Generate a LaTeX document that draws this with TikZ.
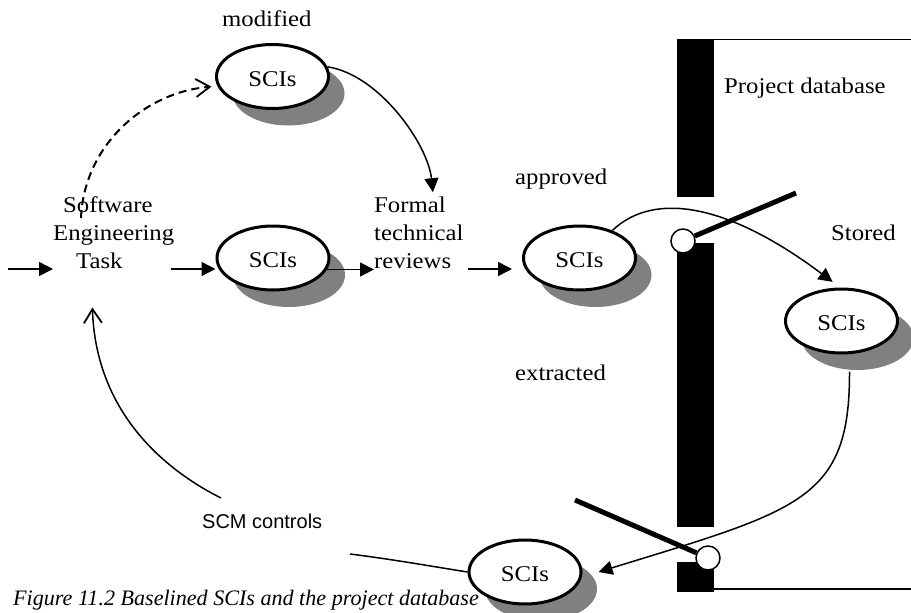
\documentclass[tikz,border=0pt]{standalone}
\usepackage{fontspec}
\setmainfont[FakeStretch=1.1]{Liberation Serif}
\newfontfamily\labelsans{Liberation Sans}
\newfontfamily\capfont{Liberation Serif}
\usetikzlibrary{arrows.meta,shapes.geometric,shadows}
\definecolor{shadowgray}{HTML}{808080}

\begin{document}
\begin{tikzpicture}[x=1pt,y=-1pt,
  every node/.style={inner sep=0pt, font=\fontsize{22.5}{27}\selectfont},
  word/.style={anchor=base west},
  sci/.style={ellipse, draw, line width=3pt, fill=white,
    minimum width=112pt, minimum height=64pt, text height=19pt, text depth=0pt,
    drop shadow={shadow xshift=16pt, shadow yshift=-17pt, fill=shadowgray, opacity=1}},
  flow/.style={line width=1.5pt, -{Triangle[length=14pt,width=14pt]}},
  barb/.style={-{Straight Barb[length=14pt,width=18pt,line width=1.8pt]}},
  dashline/.style={line width=2pt, dash pattern=on 8pt off 5pt},
  dbline/.style={line width=1.5pt},
  lever/.style={line width=5pt},
  pivot/.style={circle, draw, line width=1.5pt, fill=white, minimum size=24pt},
]
\useasboundingbox (0,0) rectangle (911,613);

% project database outline
\fill (677,39) rectangle (714,197);
\fill (677,243) rectangle (714,527);
\fill (677,562) rectangle (714,592);
\draw[dbline] (700,39.5) -- (911,39.5);
\draw[dbline] (714,589) -- (911,589);

% configuration item bubbles
\node[sci] (e1) at (272.5,76.5) {SCIs};
\node[sci] (e2) at (273,258) {SCIs};
\node[sci] (e3) at (579.5,258) {SCIs};
\node[sci] (e4) at (841.5,321) {SCIs};
\node[sci] (e5) at (525,572) {SCIs};

% labels
\node[word] (mod) at (222,27) {modified};
\node[word] (sw1) at (63,212) {Software};
\node[word] (sw2) at (53,240) {Engineering};
\node[word] (sw3) at (76,268) {Task};
\node[word] (f1) at (374,212) {Formal};
\node[word] (f2) at (374,240) {technical};
\node[word] (f3) at (374,268) {reviews};
\node[word] (appr) at (515,184) {approved};
\node[word] (stor) at (831,240) {Stored};
\node[word] (extr) at (515,380) {extracted};
\node[word] (pdb) at (724,93) {Project database};
\node[word, font=\labelsans\fontsize{20}{24}\selectfont] (scm) at (202,528) {SCM controls};
\node[word, font=\capfont\itshape\fontsize{22.1}{26}\selectfont] (cap) at (13,605)
  {Figure 11.2 Baselined SCIs and the project database};

% straight flow arrows
\coordinate (in0) at (8,269);
\draw[flow] (in0) -- (in0 -| sw2.west);
\coordinate (tk) at (171,269);
\draw[flow] (tk) -- (tk -| e2.west);
\draw[flow] (e2.-12) -- (e2.-12 -| f3.west);
\coordinate (ap) at (468,269);
\draw[flow, shorten >=10pt] (ap) -- (ap -| e3.west);

% curved flows
\draw[flow] (e1.10) .. controls (380,75) and (428,145) .. ([xshift=-13pt,yshift=4pt]f1.north east);
\coordinate (d0) at (81,218);
\draw[dashline, barb, shorten >=6pt] (d0) .. controls (84,145) and (145,92) .. (e1.190);
\draw[flow] (e3.40) .. controls (655,190) and (730,205) .. ([yshift=6pt]e4.105);
\draw[flow] ([xshift=8pt,yshift=-17pt]e4.south) .. controls (850,500) and (800,510) .. ([xshift=16pt]e5.east);

% feedback loop, interrupted by its label
\coordinate (g1) at (350,554);
\coordinate (g2) at (221,498);
\draw[line width=1.5pt] (e5.west) .. controls (430,566) and (390,559) .. (g1);
\draw[line width=1.5pt, barb] (g2) .. controls (175,475) and (96,420) .. ([xshift=-7pt,yshift=-39pt]sw3.south);

% store / extract switches
\node[pivot] (p1) at (683,241) {};
\coordinate (k1) at (796,193);
\draw[lever] (p1.23) -- (k1);
\node[pivot] (p2) at (708,558) {};
\coordinate (k2) at (575,500);
\draw[lever] (p2.156) -- (k2);
\end{tikzpicture}
\end{document}
